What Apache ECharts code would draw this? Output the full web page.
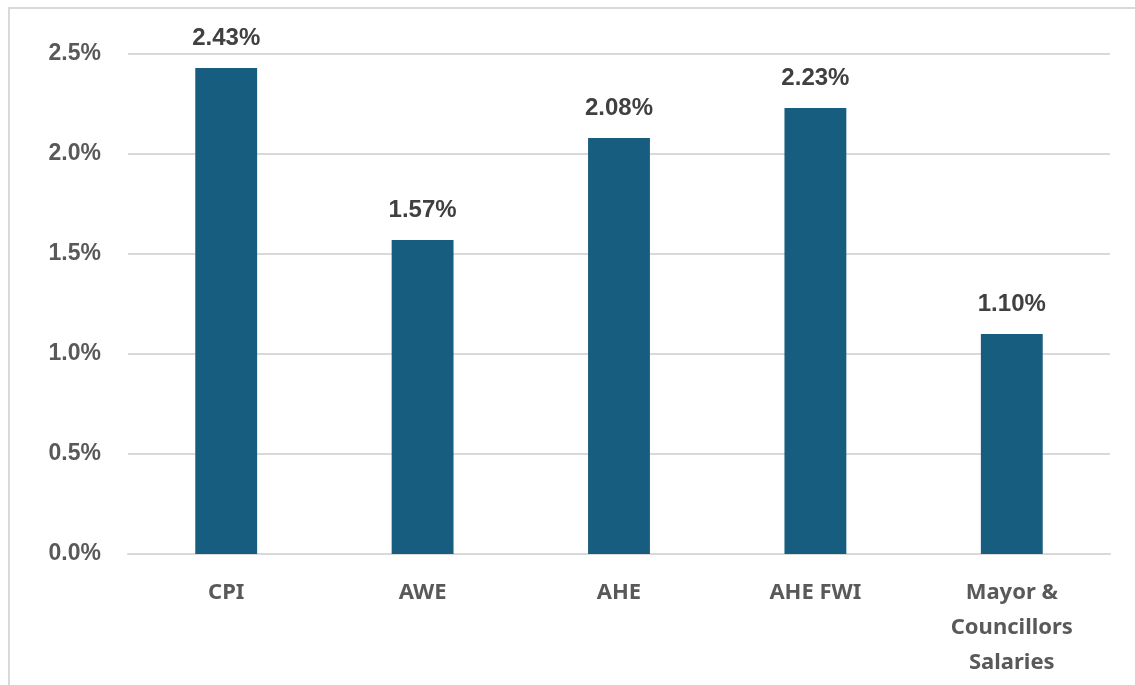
<!DOCTYPE html>
<html>
<head>
<meta charset="utf-8">
<script src="https://cdn.jsdelivr.net/npm/echarts@6/dist/echarts.min.js"></script>
<style>
  html, body { margin: 0; padding: 0; background: #fff; }
  #chart { width: 1135px; height: 685px; }
</style>
</head>
<body>
<div id="chart"></div>
<script>
// Annual increase by measure (percent)
const categories = ['CPI', 'AWE', 'AHE', 'AHE FWI', 'Mayor &\nCouncillors\nSalaries'];
const increases = [2.43, 1.57, 2.08, 2.23, 1.10];
const yTicks = { min: 0, max: 2.5, interval: 0.5 };

const chart = echarts.init(document.getElementById('chart'));
chart.setOption({
  animation: false,
  backgroundColor: '#ffffff',
  graphic: [{
    type: 'rect',
    shape: { x: 9, y: 8, width: 1300, height: 900 },
    style: { fill: 'none', stroke: '#d9d9d9', lineWidth: 2 },
    silent: true, z: -1
  }],
  grid: { left: 128, right: 25, top: 54, bottom: 131, containLabel: false },
  xAxis: {
    type: 'category',
    data: categories,
    axisLine: { show: true, lineStyle: { color: '#d9d9d9', width: 2 } },
    axisTick: { show: false },
    axisLabel: {
      color: '#595959',
      fontFamily: 'Noto Sans',
      fontWeight: 'bold',
      fontSize: 22,
      lineHeight: 35,
      margin: 21,
      interval: 0
    }
  },
  yAxis: {
    type: 'value',
    min: yTicks.min,
    max: yTicks.max,
    interval: yTicks.interval,
    axisLine: { show: false },
    axisTick: { show: false },
    splitLine: { lineStyle: { color: '#d9d9d9', width: 2 } },
    axisLabel: {
      color: '#595959',
      fontFamily: 'Liberation Sans',
      fontWeight: 'bold',
      fontSize: 23,
      margin: 27,
      formatter: v => v.toFixed(1) + '%'
    }
  },
  series: [{
    type: 'bar',
    data: increases,
    barWidth: '31.5%',
    itemStyle: { color: '#175d7f' },
    label: {
      show: true,
      position: 'top',
      distance: 18,
      color: '#404040',
      fontFamily: 'Liberation Sans',
      fontWeight: 'bold',
      fontSize: 24,
      formatter: p => p.value.toFixed(2) + '%'
    }
  }]
});
</script>
</body>
</html>
